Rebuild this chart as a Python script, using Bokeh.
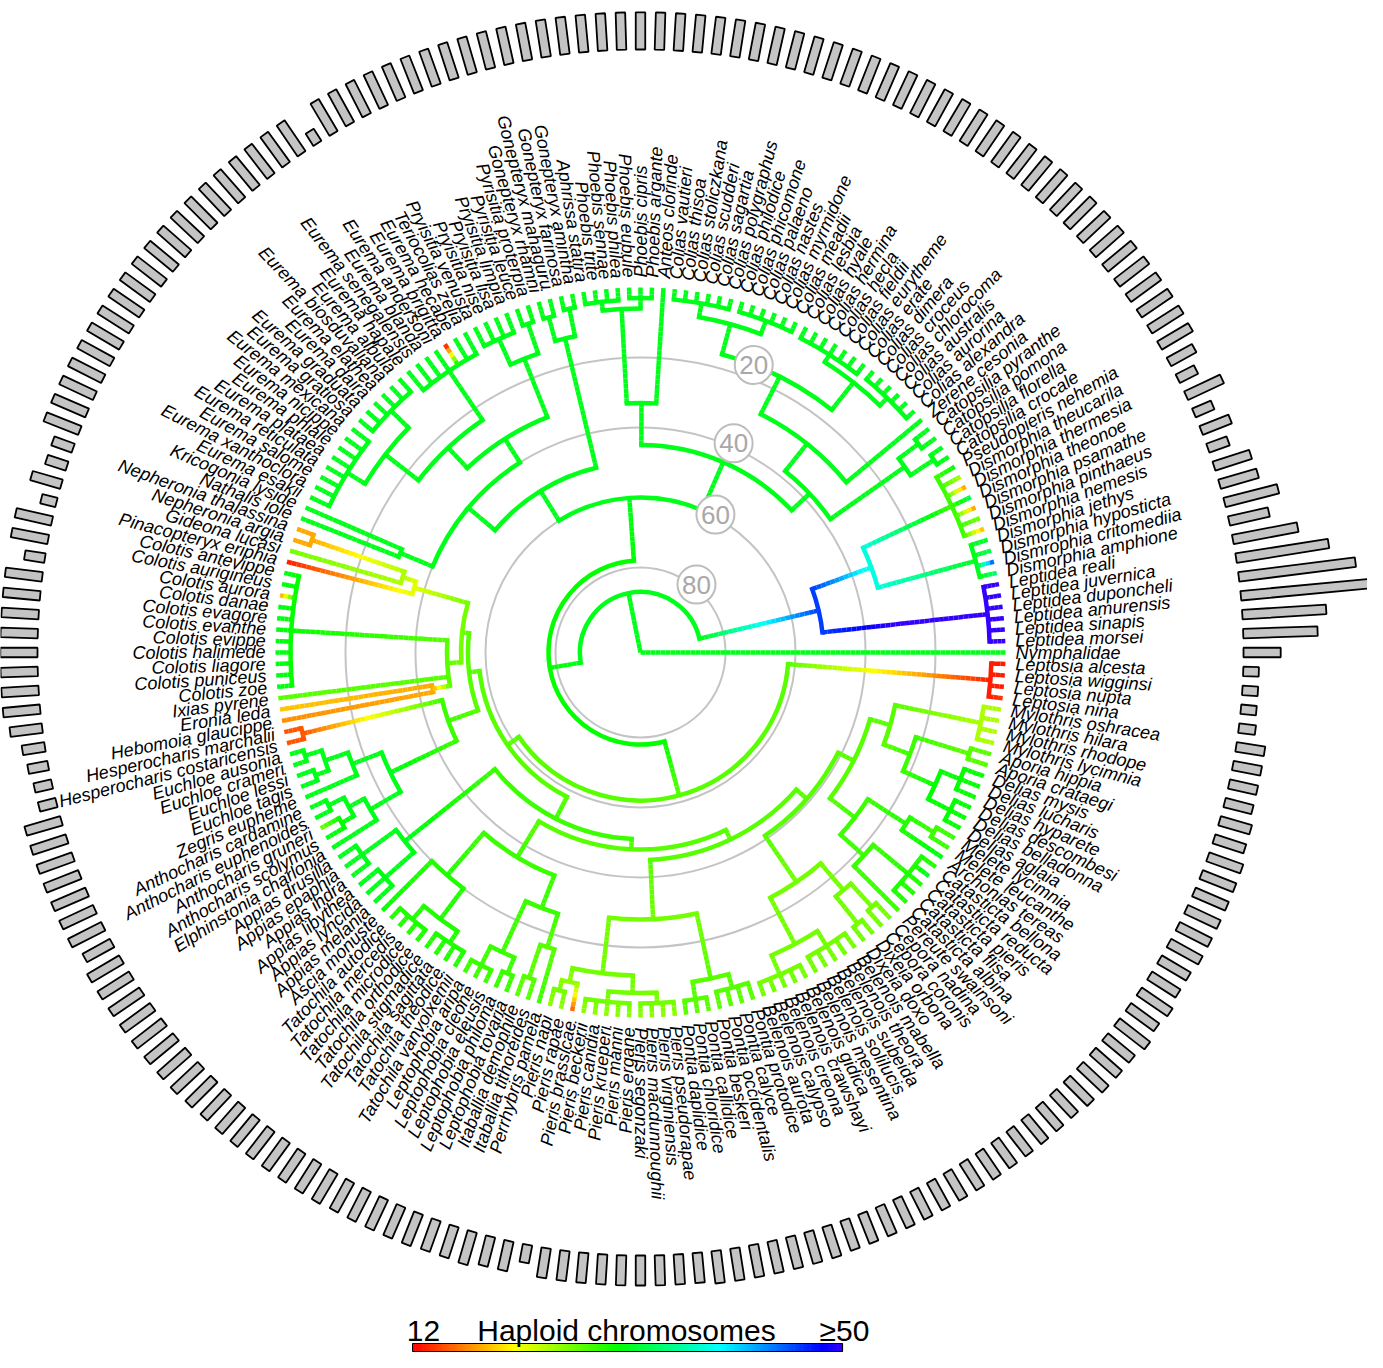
import math, colorsys
from bokeh.plotting import figure
from bokeh.models import Range1d, ColumnDataSource
from bokeh.embed import file_html
from bokeh.resources import INLINE
from bokeh.core.properties import value

TIP_NAMES = [
    "Nymphalidae", "Leptidea morsei", "Leptidea sinapis", "Leptidea amurensis", "Leptidea duponcheli",
    "Leptidea juvernica", "Leptidea reali", "Dismorphia amphione", "Dismrophia critomediia", "Dismorphia hyposticta",
    "Dismorphia jethys", "Dismorphia nemesis", "Dismorphia pinthaeus", "Dismorphia psamathe", "Dismorphia theonoe",
    "Dismorphia thermesia", "Dismorphia theucarila", "Pseudopieris nehemia", "Catopsilia crocale", "Catopsilia florella",
    "Catopsilia pomona", "Catopsilia pyranthe", "Zerene cesonia", "Colias alexandra", "Colias aurorina",
    "Colias australis", "Colias chlorocoma", "Colias croceus", "Colias dimera", "Colias erate",
    "Colias eurytheme", "Colias fieldii", "Colias hecla", "Colias hermina", "Colias hyale",
    "Colias lesbia", "Colias meadii", "Colias myrmidone", "Colias nastes", "Colias palaeno",
    "Colias phicomone", "Colias philodice", "Colias polygraphus", "Colias sagartia", "Colias scudderi",
    "Colias stoliczkana", "Colias thisoa", "Colias vautieri", "Anteos clorinde", "Phoebis argante",
    "Phoebis cipris", "Phoebis eubule", "Phoebis philea", "Phoebis sennae", "Phoebis trite",
    "Aphrissa statira", "Gonepteryx amintha", "Gonepteryx farinosa", "Gonepteryx mahaguru", "Gonepteryx rhamni",
    "Pyrisitia proterpia", "Pyrisitia leuce", "Pryisitia limpia", "Pryisitia lisa", "Pryisitia nise",
    "Pryisitia venusta", "Teriocolias zelia", "Eurema hecabe", "Eurema brigitta", "Eurema andersoni",
    "Eurema blanda", "Eurema senegalensis", "Eurema hapale", "Eurema albula", "Eurema biosduvaliana",
    "Eurema elathea", "Eurema daira", "Eurema graduata", "Eurema gratiosa", "Eurema mexicana",
    "Eurema nicippe", "Eurema phiale", "Eurema plataea", "Eurema reticulata", "Eurema salome",
    "Eurema xanthoclora", "Eurema esakii", "Kricogonia lyside", "Nathalis iole", "Nepheronia thalassina",
    "Nepheronia argia", "Gideona lucasi", "Pinacopteryx eriphia", "Colotis antevippe", "Colotis aurigineus",
    "Colotis aurora", "Colotis danae", "Colotis evagore", "Colotis evanthe", "Colotis evippe",
    "Colotis halimede", "Colotis liagore", "Colotis puniceus", "Colotis zoe", "Ixias pyrene",
    "Eronia leda", "Hebomoia glaucippe", "Hesperocharis marchalii", "Hesperocharis costaricensis", "Euchloe ausonia",
    "Euchloe crameri", "Euchloe lessi", "Euchloe tagis", "Zegris eupheme", "Anthocharis cardamine",
    "Anthocharis euphenoides", "Anthocharis gruneri", "Anthocharis scolymus", "Elphinstonia charlonia", "Appias drusilla",
    "Appias epaphia", "Appias indra", "Appias libythea", "Appias lyncida", "Appias melania",
    "Ascia monuste", "Tatochila autodice", "Tatochila mercedis", "Tatochila microdice", "Tatochila orthodice",
    "Tatochila stigmadice", "Tatochila sagittata", "Tatochila theodice", "Tatochila vanvolxemii", "Leptophobia aripa",
    "Leptophobia cleone", "Leptophobia eleusis", "Leptophobia philoma", "Leptophobia tovaria", "Itaballia demophile",
    "Itaballia tithoreides", "Perrhybris pamela", "Pieris napi", "Pieris rapae", "Pieris brassicae",
    "Pieris beckerii", "Pieris canidia", "Pieris krueperi", "Pieris manni", "Pieris ergane",
    "Pieris segonzaki", "Pieris macdunnoughii", "Pieris virginiensis", "Pieris pseudorapae", "Pontia daplidice",
    "Pontia chloridice", "Pontia callidice", "Pontia beskeri", "Pontia occidentalis", "Pontia calyce",
    "Pontia protodice", "Belenois aurota", "Belenois calypso", "Belenois creona", "Belenois crawshayi",
    "Belenois gidica", "Belenois mesentina", "Belenois solilucis", "Belenois subeida", "Belenois theora",
    "Belenois mabella", "Dixeia doxo", "Dixeia orbona", "Cepora coronis", "Cepora nadina",
    "Pereute swainsoni", "Catasticta albina", "Catasticta flisa", "Catasticta pieris", "Catasticta reducta",
    "Catasticta bellona", "Archonias tereas", "Melete leucanthe", "Melete lycimnia", "Delias aglaia",
    "Delias belladonna", "Delias descombesi", "Delias hyparete", "Delias lucharis", "Delias mysis",
    "Aporia crataegi", "Aporia hippia", "Mylothris lycimnia", "Mylothris rhodope", "Mylothris hilara",
    "Mylothris oshracea", "Leptosia nina", "Leptosia nupta", "Leptosia wigginsi", "Leptosia alcesta",
]

# haploid chromosome number of each tip (colour of tip branch and length of outer bar)
TIP_N = [
    31, 62, 70, 118, 98, 78, 55, 34, 46, 33,
    32, 18, 26, 17, 33, 17, 24, 30, 31, 31,
    31, 31, 31, 31, 31, 31, 31, 31, 31, 31,
    31, 31, 31, 31, 31, 31, 31, 31, 31, 31,
    31, 31, 31, 31, 31, 31, 31, 31, 31, 31,
    31, 31, 31, 31, 31, 31, 31, 31, 31, 31,
    31, 31, 31, 31, 31, 31, 31, 31, 12, 31,
    31, 31, 31, 31, 31, 31, 31, 31, 31, 31,
    31, 31, 31, 31, 31, 31, 31, 31, 31, 18,
    18, 26, 13, 31, 31, 17, 31, 31, 31, 31,
    31, 31, 31, 31, 27, 19, 17, 15, 15, 31,
    31, 31, 31, 31, 31, 31, 26, 31, 31, 31,
    31, 31, 31, 31, 31, 30, 29, 29, 29, 29,
    29, 29, 29, 29, 28, 28, 28, 28, 28, 27,
    27, 28, 25, 25, 15, 25, 25, 25, 25, 25,
    25, 25, 25, 25, 27, 27, 27, 27, 27, 27,
    27, 26, 26, 26, 26, 26, 26, 26, 26, 26,
    26, 26, 26, 26, 26, 28, 29, 29, 29, 32,
    29, 31, 28, 28, 30, 30, 30, 30, 30, 30,
    27, 27, 24, 24, 24, 24, 14, 13, 13, 13,
]

# clades: "(children)age/n" with age in Mya and n the reconstructed haploid number
LEPTIDEA = "(1,2,3,4,5,6)4.5/55"
DISMORPHIA = "((7,8,9,10)5/31,(11,12,13,14,15,16,17)6/28)34/38"
DISMORPHIINAE = f"({LEPTIDEA},{DISMORPHIA})52/46"
CATOPSILIA = "((18,19)4/31,(20,21)5/31)12/31"
COLIAS = ("(((23,24,25,26,27,28)3/31,(29,30,31,32,33,34,35)3.5/31)6/31,"
          "((36,37,38,39,40,41)3/31,(42,43,44,45,46,47)3/31)7/31)16/31")
PHOEBIS = "((49,50,51)3/31,(52,53,54,55)3.5/31)6/31"
COL_A = f"(({CATOPSILIA},(22,{COLIAS})28/31)38/31,(48,{PHOEBIS})33/31)45/31"
GONEPTERYX = "((56,57)4/31,(58,59)5/31)12/31"
PYRISITIA = "((60,61)5/31,(62,63,64,65)6/31)14/31"
EUREMA = ("((66,67,68,69,70,71,72)7/31,((73,74,75,76,77,78)5/31,"
          "(79,80,81,82,83,84,85,86)6/31)12/31)24/31")
COL_B = f"({GONEPTERYX},(({PYRISITIA},{EUREMA})32/31,(87,88)30/31)40/31)50/31"
COLIADINAE = f"({COL_A},{COL_B})60/31"
COLOTINI = ("((((89,90)5/18,91)33/24,92)37/22,"
            "((93,94,95,96,97,98,99,100,101,102,103)4.3/30,104,(105,106)44/18)49/27)53/26")
ANTHOCHARIDINI = ("((107,108)5/15,((((109,110)4/31,(111,112)5/31)9/31,113)16/31,"
                  "(((114,115)5/31,(116,117)6/30)10/31,118)15/31)25/31)46/28")
APPIAS = "((119,120,121)6/31,(122,123,124)7/31)18/31"
TATOCHILA_GRP = ("((125,((126,127,128,129)4/29,(130,131,132,133)5/29)9/29)20/29,"
                 "(((134,135,136)4/28,(137,138)5/28)10/28,((139,140)6/27,141)16/27)26/28)36/28")
PIERIS_PONTIA = ("((((142,143)5/26,144)8/25,((145,146,147,148,149)4/26,(150,151,152,153)4/26)7/26)12/26,"
                 "((154,155,156)4/27,(157,158,159,160)5/27)9/27)28/26")
BELENOIS_GRP = ("(((161,162,163,164,165)4/26,(166,167,168,169,170)5/26)10/26,"
                "((171,172)5/26,(173,174)6/26)15/26)25/26")
APORIINA = ("(((175,(176,177,178,179,180)5/29)18/28,(181,(182,183)6/28)14/29)27/28,"
            "((((184,185,186)5/30,(187,188,189)6/30)12/30,(190,191)6/27)22/28,(192,193,194,195)5/24)30/27)36/27")
PIERINI = f"({APPIAS},({TATOCHILA_GRP},({PIERIS_PONTIA},({BELENOIS_GRP},{APORIINA})41/27)45/27)48/27)51/28"
LEPTOSIA = "(196,197,198,199)4/13"
PIERINAE = f"((({COLOTINI},{ANTHOCHARIDINI})55/27,{PIERINI})58/27,{LEPTOSIA})62/27"
TREE = f"(0,({DISMORPHIINAE},({COLIADINAE},{PIERINAE})78/30)87/31)104.3/31"

RING_AGES = [20, 40, 60, 80]
RING_LABEL_ANGLES = [68.5, 66.0, 61.5, 50.5]
RING_LABEL_LIFT = [14, 4, 2, 3]
COLORBAR_TEXTS = ["12", "Haploid chromosomes", "\u226550"]
N_MIN, N_MAX = 12, 50

# ---------------- geometry / style ----------------
CX, CY = 648, 660
W, H = 1367, 1352
TIP_R = 365.0
ROOT_AGE = 104.3
K = TIP_R / ROOT_AGE
LABEL_R = 375.0
BAR_R0 = 603.0
BAR_PX = 1.2
BAR_W = 9.5
LW = 4.5


def ncolor(n):
    t = min(max((n - N_MIN) / (N_MAX - N_MIN), 0.0), 1.0)
    r, g, b = colorsys.hsv_to_rgb(t * 0.7, 1.0, 1.0)
    return "#%02x%02x%02x" % (round(r * 255), round(g * 255), round(b * 255))


def parse(s):
    s = s.replace(" ", "")
    pos = 0

    def token():
        nonlocal pos
        j = pos
        while pos < len(s) and s[pos] not in ",()":
            pos += 1
        return s[j:pos]

    def node():
        nonlocal pos
        if s[pos] == "(":
            pos += 1
            kids = [node()]
            while s[pos] == ",":
                pos += 1
                kids.append(node())
            pos += 1
            age, n = token().split("/")
            return {"kids": kids, "age": float(age), "n": float(n)}
        idx = int(token())
        return {"tip": idx, "age": 0.0, "n": float(TIP_N[idx])}

    return node()


NT = len(TIP_NAMES)
root = parse(TREE)


def place(nd):
    if "tip" in nd:
        nd["th"] = 2 * math.pi * nd["tip"] / NT
    else:
        for k in nd["kids"]:
            place(k)
        nd["th"] = 0.5 * (nd["kids"][0]["th"] + nd["kids"][-1]["th"])
    nd["r"] = max(0.0, TIP_R - K * nd["age"])


place(root)

seg = dict(x0=[], y0=[], x1=[], y1=[], c=[])
arc = dict(r=[], a0=[], a1=[], c=[])


def walk(nd):
    if "kids" not in nd:
        return
    if nd["r"] > 1:
        ext = (LW / 2) / nd["r"]
        arc["r"].append(nd["r"])
        arc["a0"].append(nd["kids"][0]["th"] - ext)
        arc["a1"].append(nd["kids"][-1]["th"] + ext)
        arc["c"].append(ncolor(nd["n"]))
    for k in nd["kids"]:
        r0, r1 = nd["r"], k["r"]
        L = r1 - r0
        m = max(1, int(math.ceil(L / 5.0)))
        ct, st = math.cos(k["th"]), math.sin(k["th"])
        for j in range(m):
            ra = r0 + L * j / m
            rb = r0 + L * (j + 1) / m
            nn = nd["n"] + (k["n"] - nd["n"]) * (j + 0.5) / m
            seg["x0"].append(ra * ct)
            seg["y0"].append(ra * st)
            seg["x1"].append(rb * ct)
            seg["y1"].append(rb * st)
            seg["c"].append(ncolor(nn))
        walk(k)


walk(root)

p = figure(width=W, height=H, x_range=Range1d(8 - CX, 8 + W - CX), y_range=Range1d(CY - 8 - H, CY - 8),
           output_backend="svg", toolbar_location=None, min_border=0,
           x_axis_location=None, y_axis_location=None)
p.grid.visible = False
p.outline_line_color = None
p.background_fill_color = "white"

# grey age rings
ring_r = [TIP_R - K * a for a in RING_AGES]
p.circle(x=[0] * len(ring_r), y=[0] * len(ring_r), radius=ring_r, fill_color=None,
         line_color="#c4c4c4", line_width=2)

# tree
p.arc(x=[0] * len(arc["r"]), y=[0] * len(arc["r"]), radius=arc["r"], start_angle=arc["a0"],
      end_angle=arc["a1"], line_color=arc["c"], line_width=LW, direction="anticlock")
p.segment(x0="x0", y0="y0", x1="x1", y1="y1", line_color="c", line_width=LW,
          source=ColumnDataSource(seg))

# tip labels
lab = dict(x=[], y=[], t=[], a=[], al=[])
for i, name in enumerate(TIP_NAMES):
    th = 2 * math.pi * i / NT
    right = math.cos(th) >= -1e-9
    lab["x"].append(LABEL_R * math.cos(th))
    lab["y"].append(LABEL_R * math.sin(th))
    lab["t"].append(name)
    lab["a"].append(th if right else th + math.pi)
    lab["al"].append("left" if right else "right")
p.text(x="x", y="y", text="t", angle="a", text_align="al", text_baseline="middle",
       text_font=value("Liberation Sans"), text_font_style="italic", text_font_size="18px",
       text_color="black", source=ColumnDataSource(lab))

# outer bars
bar = dict(x=[], y=[], w=[], a=[])
for i, n in enumerate(TIP_N):
    th = 2 * math.pi * i / NT
    L = n * BAR_PX
    rc = BAR_R0 + L / 2
    bar["x"].append(rc * math.cos(th))
    bar["y"].append(rc * math.sin(th))
    bar["w"].append(L)
    bar["a"].append(th)
p.rect(x="x", y="y", width="w", height=BAR_W, angle="a", fill_color="#c4c4c4",
       line_color="black", line_width=1.8, source=ColumnDataSource(bar))

# ring badges
bx = [(r + d) * math.cos(math.radians(a)) for r, d, a in zip(ring_r, RING_LABEL_LIFT, RING_LABEL_ANGLES)]
by = [(r + d) * math.sin(math.radians(a)) for r, d, a in zip(ring_r, RING_LABEL_LIFT, RING_LABEL_ANGLES)]
p.circle(x=bx, y=by, radius=19, fill_color="white", line_color="#bdbdbd", line_width=2)
p.text(x=bx, y=by, text=[str(a) for a in RING_AGES], text_align="center", text_baseline="middle",
       text_font=value("Liberation Sans"), text_font_size="26px", text_color="#a8a8a8")

# colour bar
CB_X0, CB_X1 = 420 - CX, 850 - CX
CB_Y0, CB_Y1 = CY - 1359, CY - 1351
steps = 160
qx0 = [CB_X0 + (CB_X1 - CB_X0) * j / steps for j in range(steps)]
qx1 = [CB_X0 + (CB_X1 - CB_X0) * (j + 1) / steps + 0.6 for j in range(steps)]
qc = [ncolor(N_MIN + (N_MAX - N_MIN) * (j + 0.5) / steps) for j in range(steps)]
p.quad(left=qx0, right=qx1, bottom=CB_Y0, top=CB_Y1, fill_color=qc, line_color=None)
p.quad(left=CB_X0, right=CB_X1, bottom=CB_Y0, top=CB_Y1, fill_color=None, line_color="black", line_width=1)
p.text(x=[431 - CX, 634 - CX, 852 - CX], y=[CY - 1338] * 3, text=COLORBAR_TEXTS, text_align="center",
       text_baseline="middle", text_font=value("Liberation Sans"), text_font_size="30px", text_color="black")

open("out.html", "w").write(file_html(p, INLINE))
